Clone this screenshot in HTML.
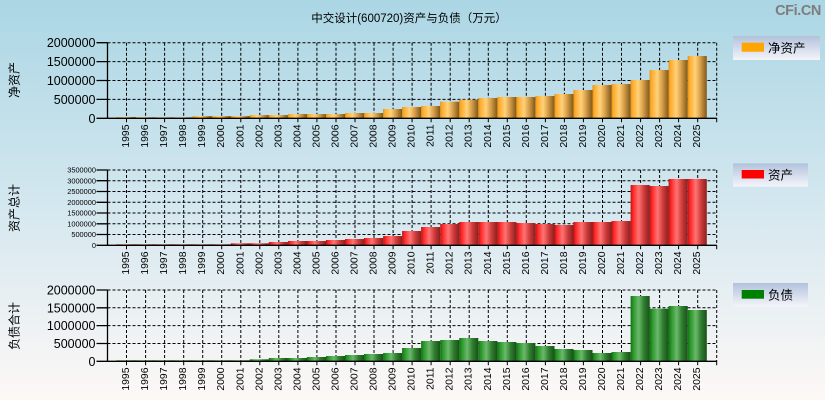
<!DOCTYPE html>
<html><head><meta charset="utf-8"><style>
html,body{margin:0;padding:0;width:825px;height:400px;overflow:hidden}
svg{display:block}
text{font-family:"Liberation Sans","Noto Sans CJK SC",sans-serif;fill:#000}
</style></head><body>
<svg width="825" height="400" viewBox="0 0 825 400" xmlns="http://www.w3.org/2000/svg">
<defs>
<linearGradient id="bg" x1="0" y1="0" x2="0" y2="1">
<stop offset="0" stop-color="#abd6e4"/><stop offset="0.5" stop-color="#d3e7ef"/><stop offset="1" stop-color="#fdf8f6"/>
</linearGradient>
<linearGradient id="lg" x1="0" y1="0" x2="0" y2="1">
<stop offset="0" stop-color="#b2c2dc"/><stop offset="1" stop-color="#f5f5fa"/>
</linearGradient>
<linearGradient id="go" x1="0" y1="0" x2="1" y2="0">
<stop offset="0" stop-color="#d8901a"/><stop offset="0.08" stop-color="#ffa826"/><stop offset="0.4" stop-color="#ffd27a"/><stop offset="0.65" stop-color="#d9a04a"/><stop offset="1" stop-color="#7e5818"/>
</linearGradient>
<linearGradient id="gr" x1="0" y1="0" x2="1" y2="0">
<stop offset="0" stop-color="#b01818"/><stop offset="0.12" stop-color="#ff2424"/><stop offset="0.42" stop-color="#ff7474"/><stop offset="0.7" stop-color="#d03a3a"/><stop offset="1" stop-color="#8a2020"/>
</linearGradient>
<linearGradient id="gg" x1="0" y1="0" x2="1" y2="0">
<stop offset="0" stop-color="#146e14"/><stop offset="0.12" stop-color="#259525"/><stop offset="0.42" stop-color="#6cb86c"/><stop offset="0.7" stop-color="#2e7e2e"/><stop offset="1" stop-color="#1a4f1a"/>
</linearGradient>
</defs>
<rect x="0" y="0" width="825" height="400" fill="url(#bg)"/>

<text x="409" y="22" font-size="11.5" text-anchor="middle">中交设计(600720)资产与负债（万元）</text>
<text x="821" y="15" font-size="14.5" font-weight="bold" text-anchor="end" style="fill:#7d7d7d" letter-spacing="-0.4">CFi.CN</text>

<!-- side labels -->
<text transform="translate(18.5,80) rotate(-90)" font-size="12" text-anchor="middle">净资产</text>
<text transform="translate(18.5,208) rotate(-90)" font-size="12" text-anchor="middle">资产总计</text>
<text transform="translate(18.5,326) rotate(-90)" font-size="12" text-anchor="middle">负债合计</text>

<!-- ================= PLOT 1 ================= -->
<g stroke="#000" stroke-width="1" stroke-dasharray="3,2" fill="none">
<path d="M107.5 42.7H716.7M107.5 61.6H716.7M107.5 80.5H716.7M107.5 99.4H716.7"/>
<path d="M126.5 42.7V118.3M145.6 42.7V118.3M164.6 42.7V118.3M183.7 42.7V118.3M202.7 42.7V118.3M221.7 42.7V118.3M240.8 42.7V118.3M259.8 42.7V118.3M278.8 42.7V118.3M297.9 42.7V118.3M316.9 42.7V118.3M336 42.7V118.3M355 42.7V118.3M374 42.7V118.3M393.1 42.7V118.3M412.1 42.7V118.3M431.1 42.7V118.3M450.2 42.7V118.3M469.2 42.7V118.3M488.3 42.7V118.3M507.3 42.7V118.3M526.3 42.7V118.3M545.4 42.7V118.3M564.4 42.7V118.3M583.4 42.7V118.3M602.5 42.7V118.3M621.5 42.7V118.3M640.6 42.7V118.3M659.6 42.7V118.3M678.6 42.7V118.3M697.7 42.7V118.3M716.7 42.7V118.3"/>
</g>
<g fill="url(#go)">
<rect x="116.5" y="117" width="19.1" height="1.3"/>
<rect x="135.6" y="117.3" width="19.1" height="1"/>
<rect x="154.6" y="117.3" width="19.1" height="1"/>
<rect x="173.6" y="117.3" width="19.1" height="1"/>
<rect x="192.7" y="116" width="19.1" height="2.3"/>
<rect x="211.7" y="116" width="19.1" height="2.3"/>
<rect x="230.8" y="116" width="19.1" height="2.3"/>
<rect x="249.8" y="115" width="19.1" height="3.3"/>
<rect x="268.8" y="115" width="19.1" height="3.3"/>
<rect x="287.9" y="114" width="19.1" height="4.3"/>
<rect x="306.9" y="114" width="19.1" height="4.3"/>
<rect x="325.9" y="114" width="19.1" height="4.3"/>
<rect x="345" y="113" width="19.1" height="5.3"/>
<rect x="364" y="113" width="19.1" height="5.3"/>
<rect x="383.1" y="109" width="19.1" height="9.3"/>
<rect x="402.1" y="107" width="19.1" height="11.3"/>
<rect x="421.1" y="106" width="19.1" height="12.3"/>
<rect x="440.2" y="101.7" width="19.1" height="16.6"/>
<rect x="459.2" y="99.7" width="19.1" height="18.6"/>
<rect x="478.3" y="98" width="19.1" height="20.3"/>
<rect x="497.3" y="97" width="19.1" height="21.3"/>
<rect x="516.3" y="97" width="19.1" height="21.3"/>
<rect x="535.4" y="96" width="19.1" height="22.3"/>
<rect x="554.4" y="94" width="19.1" height="24.3"/>
<rect x="573.4" y="90" width="19.1" height="28.3"/>
<rect x="592.5" y="85" width="19.1" height="33.3"/>
<rect x="611.5" y="84" width="19.1" height="34.3"/>
<rect x="630.6" y="80" width="19.1" height="38.3"/>
<rect x="649.6" y="70" width="19.1" height="48.3"/>
<rect x="668.6" y="60" width="19.1" height="58.3"/>
<rect x="687.7" y="56" width="19.1" height="62.3"/>
</g>
<g stroke="#000" stroke-width="1.3" fill="none">
<path d="M107.5 42.7V118.3H716.7"/>
<path d="M96.5 42.7H107.5M96.5 61.6H107.5M96.5 80.5H107.5M96.5 99.4H107.5M96.5 118.3H107.5"/>
<path stroke-width="1" d="M126.5 118.3v4M145.6 118.3v4M164.6 118.3v4M183.7 118.3v4M202.7 118.3v4M221.7 118.3v4M240.8 118.3v4M259.8 118.3v4M278.8 118.3v4M297.9 118.3v4M316.9 118.3v4M336 118.3v4M355 118.3v4M374 118.3v4M393.1 118.3v4M412.1 118.3v4M431.1 118.3v4M450.2 118.3v4M469.2 118.3v4M488.3 118.3v4M507.3 118.3v4M526.3 118.3v4M545.4 118.3v4M564.4 118.3v4M583.4 118.3v4M602.5 118.3v4M621.5 118.3v4M640.6 118.3v4M659.6 118.3v4M678.6 118.3v4M697.7 118.3v4M716.7 118.3v4"/>
</g>
<g font-size="12.5" text-anchor="end">
<text x="95.5" y="47.2">2000000</text>
<text x="95.5" y="66.1">1500000</text>
<text x="95.5" y="85">1000000</text>
<text x="95.5" y="103.9">500000</text>
<text x="95.5" y="122.8">0</text>
</g>
<g font-size="10.4" text-anchor="end">
<text transform="translate(129,124.5) rotate(-90)">1995</text>
<text transform="translate(148.1,124.5) rotate(-90)">1996</text>
<text transform="translate(167.1,124.5) rotate(-90)">1997</text>
<text transform="translate(186.2,124.5) rotate(-90)">1998</text>
<text transform="translate(205.2,124.5) rotate(-90)">1999</text>
<text transform="translate(224.2,124.5) rotate(-90)">2000</text>
<text transform="translate(243.3,124.5) rotate(-90)">2001</text>
<text transform="translate(262.3,124.5) rotate(-90)">2002</text>
<text transform="translate(281.3,124.5) rotate(-90)">2003</text>
<text transform="translate(300.4,124.5) rotate(-90)">2004</text>
<text transform="translate(319.4,124.5) rotate(-90)">2005</text>
<text transform="translate(338.5,124.5) rotate(-90)">2006</text>
<text transform="translate(357.5,124.5) rotate(-90)">2007</text>
<text transform="translate(376.5,124.5) rotate(-90)">2008</text>
<text transform="translate(395.6,124.5) rotate(-90)">2009</text>
<text transform="translate(414.6,124.5) rotate(-90)">2010</text>
<text transform="translate(433.6,124.5) rotate(-90)">2011</text>
<text transform="translate(452.7,124.5) rotate(-90)">2012</text>
<text transform="translate(471.7,124.5) rotate(-90)">2013</text>
<text transform="translate(490.8,124.5) rotate(-90)">2014</text>
<text transform="translate(509.8,124.5) rotate(-90)">2015</text>
<text transform="translate(528.8,124.5) rotate(-90)">2016</text>
<text transform="translate(547.9,124.5) rotate(-90)">2017</text>
<text transform="translate(566.9,124.5) rotate(-90)">2018</text>
<text transform="translate(585.9,124.5) rotate(-90)">2019</text>
<text transform="translate(605,124.5) rotate(-90)">2020</text>
<text transform="translate(624,124.5) rotate(-90)">2021</text>
<text transform="translate(643.1,124.5) rotate(-90)">2022</text>
<text transform="translate(662.1,124.5) rotate(-90)">2023</text>
<text transform="translate(681.1,124.5) rotate(-90)">2024</text>
<text transform="translate(700.2,124.5) rotate(-90)">2025</text>
</g>
<rect x="733" y="36" width="87" height="24" fill="url(#lg)"/>
<rect x="741.7" y="42.7" width="22.3" height="9" fill="#ffa500"/>
<text x="768" y="52.5" font-size="12.5">净资产</text>

<!-- ================= PLOT 2 ================= -->
<g stroke="#000" stroke-width="1" stroke-dasharray="3,2" fill="none">
<path d="M107.5 170H716.7M107.5 180.7H716.7M107.5 191.5H716.7M107.5 202.3H716.7M107.5 213H716.7M107.5 223.8H716.7M107.5 234.5H716.7"/>
<path d="M126.5 170V245.3M145.6 170V245.3M164.6 170V245.3M183.7 170V245.3M202.7 170V245.3M221.7 170V245.3M240.8 170V245.3M259.8 170V245.3M278.8 170V245.3M297.9 170V245.3M316.9 170V245.3M336 170V245.3M355 170V245.3M374 170V245.3M393.1 170V245.3M412.1 170V245.3M431.1 170V245.3M450.2 170V245.3M469.2 170V245.3M488.3 170V245.3M507.3 170V245.3M526.3 170V245.3M545.4 170V245.3M564.4 170V245.3M583.4 170V245.3M602.5 170V245.3M621.5 170V245.3M640.6 170V245.3M659.6 170V245.3M678.6 170V245.3M697.7 170V245.3M716.7 170V245.3"/>
</g>
<g fill="url(#gr)">
<rect x="116.5" y="244.3" width="19.1" height="1"/>
<rect x="135.6" y="244.3" width="19.1" height="1"/>
<rect x="154.6" y="244.3" width="19.1" height="1"/>
<rect x="173.6" y="244.3" width="19.1" height="1"/>
<rect x="192.7" y="244.3" width="19.1" height="1"/>
<rect x="211.7" y="244.3" width="19.1" height="1"/>
<rect x="230.8" y="243.3" width="19.1" height="2"/>
<rect x="249.8" y="243.3" width="19.1" height="2"/>
<rect x="268.8" y="242" width="19.1" height="3.3"/>
<rect x="287.9" y="241" width="19.1" height="4.3"/>
<rect x="306.9" y="241" width="19.1" height="4.3"/>
<rect x="325.9" y="240" width="19.1" height="5.3"/>
<rect x="345" y="239" width="19.1" height="6.3"/>
<rect x="364" y="238" width="19.1" height="7.3"/>
<rect x="383.1" y="236" width="19.1" height="9.3"/>
<rect x="402.1" y="231" width="19.1" height="14.3"/>
<rect x="421.1" y="227" width="19.1" height="18.3"/>
<rect x="440.2" y="224" width="19.1" height="21.3"/>
<rect x="459.2" y="222" width="19.1" height="23.3"/>
<rect x="478.3" y="222" width="19.1" height="23.3"/>
<rect x="497.3" y="222" width="19.1" height="23.3"/>
<rect x="516.3" y="223" width="19.1" height="22.3"/>
<rect x="535.4" y="224" width="19.1" height="21.3"/>
<rect x="554.4" y="225" width="19.1" height="20.3"/>
<rect x="573.4" y="222" width="19.1" height="23.3"/>
<rect x="592.5" y="222" width="19.1" height="23.3"/>
<rect x="611.5" y="221" width="19.1" height="24.3"/>
<rect x="630.6" y="185" width="19.1" height="60.3"/>
<rect x="649.6" y="186" width="19.1" height="59.3"/>
<rect x="668.6" y="179" width="19.1" height="66.3"/>
<rect x="687.7" y="179" width="19.1" height="66.3"/>
</g>
<g stroke="#000" stroke-width="1.3" fill="none">
<path d="M107.5 170V245.3H716.7"/>
<path d="M96.5 170H107.5M96.5 180.7H107.5M96.5 191.5H107.5M96.5 202.3H107.5M96.5 213H107.5M96.5 223.8H107.5M96.5 234.5H107.5M96.5 245.3H107.5"/>
<path stroke-width="1" d="M126.5 245.3v4M145.6 245.3v4M164.6 245.3v4M183.7 245.3v4M202.7 245.3v4M221.7 245.3v4M240.8 245.3v4M259.8 245.3v4M278.8 245.3v4M297.9 245.3v4M316.9 245.3v4M336 245.3v4M355 245.3v4M374 245.3v4M393.1 245.3v4M412.1 245.3v4M431.1 245.3v4M450.2 245.3v4M469.2 245.3v4M488.3 245.3v4M507.3 245.3v4M526.3 245.3v4M545.4 245.3v4M564.4 245.3v4M583.4 245.3v4M602.5 245.3v4M621.5 245.3v4M640.6 245.3v4M659.6 245.3v4M678.6 245.3v4M697.7 245.3v4M716.7 245.3v4"/>
</g>
<g font-size="7.4" text-anchor="end">
<text x="96" y="172.7">3500000</text>
<text x="96" y="183.4">3000000</text>
<text x="96" y="194.2">2500000</text>
<text x="96" y="205">2000000</text>
<text x="96" y="215.7">1500000</text>
<text x="96" y="226.5">1000000</text>
<text x="96" y="237.2">500000</text>
<text x="96" y="248">0</text>
</g>
<g font-size="10.4" text-anchor="end">
<text transform="translate(129,251.5) rotate(-90)">1995</text>
<text transform="translate(148.1,251.5) rotate(-90)">1996</text>
<text transform="translate(167.1,251.5) rotate(-90)">1997</text>
<text transform="translate(186.2,251.5) rotate(-90)">1998</text>
<text transform="translate(205.2,251.5) rotate(-90)">1999</text>
<text transform="translate(224.2,251.5) rotate(-90)">2000</text>
<text transform="translate(243.3,251.5) rotate(-90)">2001</text>
<text transform="translate(262.3,251.5) rotate(-90)">2002</text>
<text transform="translate(281.3,251.5) rotate(-90)">2003</text>
<text transform="translate(300.4,251.5) rotate(-90)">2004</text>
<text transform="translate(319.4,251.5) rotate(-90)">2005</text>
<text transform="translate(338.5,251.5) rotate(-90)">2006</text>
<text transform="translate(357.5,251.5) rotate(-90)">2007</text>
<text transform="translate(376.5,251.5) rotate(-90)">2008</text>
<text transform="translate(395.6,251.5) rotate(-90)">2009</text>
<text transform="translate(414.6,251.5) rotate(-90)">2010</text>
<text transform="translate(433.6,251.5) rotate(-90)">2011</text>
<text transform="translate(452.7,251.5) rotate(-90)">2012</text>
<text transform="translate(471.7,251.5) rotate(-90)">2013</text>
<text transform="translate(490.8,251.5) rotate(-90)">2014</text>
<text transform="translate(509.8,251.5) rotate(-90)">2015</text>
<text transform="translate(528.8,251.5) rotate(-90)">2016</text>
<text transform="translate(547.9,251.5) rotate(-90)">2017</text>
<text transform="translate(566.9,251.5) rotate(-90)">2018</text>
<text transform="translate(585.9,251.5) rotate(-90)">2019</text>
<text transform="translate(605,251.5) rotate(-90)">2020</text>
<text transform="translate(624,251.5) rotate(-90)">2021</text>
<text transform="translate(643.1,251.5) rotate(-90)">2022</text>
<text transform="translate(662.1,251.5) rotate(-90)">2023</text>
<text transform="translate(681.1,251.5) rotate(-90)">2024</text>
<text transform="translate(700.2,251.5) rotate(-90)">2025</text>
</g>
<rect x="733" y="163.3" width="75" height="23.4" fill="url(#lg)"/>
<rect x="741.7" y="170" width="22.3" height="8.5" fill="#ff0000"/>
<text x="768" y="179.5" font-size="12.5">资产</text>

<!-- ================= PLOT 3 ================= -->
<g stroke="#000" stroke-width="1" stroke-dasharray="3,2" fill="none">
<path d="M107.5 290H716.7M107.5 307.8H716.7M107.5 325.6H716.7M107.5 343.5H716.7"/>
<path d="M126.5 290V361.3M145.6 290V361.3M164.6 290V361.3M183.7 290V361.3M202.7 290V361.3M221.7 290V361.3M240.8 290V361.3M259.8 290V361.3M278.8 290V361.3M297.9 290V361.3M316.9 290V361.3M336 290V361.3M355 290V361.3M374 290V361.3M393.1 290V361.3M412.1 290V361.3M431.1 290V361.3M450.2 290V361.3M469.2 290V361.3M488.3 290V361.3M507.3 290V361.3M526.3 290V361.3M545.4 290V361.3M564.4 290V361.3M583.4 290V361.3M602.5 290V361.3M621.5 290V361.3M640.6 290V361.3M659.6 290V361.3M678.6 290V361.3M697.7 290V361.3M716.7 290V361.3"/>
</g>
<g fill="url(#gg)">
<rect x="116.5" y="360.3" width="19.1" height="1"/>
<rect x="135.6" y="360.3" width="19.1" height="1"/>
<rect x="154.6" y="360.3" width="19.1" height="1"/>
<rect x="173.6" y="360.3" width="19.1" height="1"/>
<rect x="192.7" y="360.3" width="19.1" height="1"/>
<rect x="211.7" y="360.3" width="19.1" height="1"/>
<rect x="230.8" y="360.3" width="19.1" height="1"/>
<rect x="249.8" y="359.3" width="19.1" height="2"/>
<rect x="268.8" y="358" width="19.1" height="3.3"/>
<rect x="287.9" y="358" width="19.1" height="3.3"/>
<rect x="306.9" y="357" width="19.1" height="4.3"/>
<rect x="325.9" y="356" width="19.1" height="5.3"/>
<rect x="345" y="355" width="19.1" height="6.3"/>
<rect x="364" y="354" width="19.1" height="7.3"/>
<rect x="383.1" y="353" width="19.1" height="8.3"/>
<rect x="402.1" y="348" width="19.1" height="13.3"/>
<rect x="421.1" y="341" width="19.1" height="20.3"/>
<rect x="440.2" y="340" width="19.1" height="21.3"/>
<rect x="459.2" y="338" width="19.1" height="23.3"/>
<rect x="478.3" y="341" width="19.1" height="20.3"/>
<rect x="497.3" y="342" width="19.1" height="19.3"/>
<rect x="516.3" y="343" width="19.1" height="18.3"/>
<rect x="535.4" y="346" width="19.1" height="15.3"/>
<rect x="554.4" y="349" width="19.1" height="12.3"/>
<rect x="573.4" y="350" width="19.1" height="11.3"/>
<rect x="592.5" y="353" width="19.1" height="8.3"/>
<rect x="611.5" y="352" width="19.1" height="9.3"/>
<rect x="630.6" y="296" width="19.1" height="65.3"/>
<rect x="649.6" y="308.7" width="19.1" height="52.6"/>
<rect x="668.6" y="306" width="19.1" height="55.3"/>
<rect x="687.7" y="310" width="19.1" height="51.3"/>
</g>
<g stroke="#000" stroke-width="1.3" fill="none">
<path d="M107.5 290V361.3H716.7"/>
<path d="M96.5 290H107.5M96.5 307.8H107.5M96.5 325.6H107.5M96.5 343.5H107.5M96.5 361.3H107.5"/>
<path stroke-width="1" d="M126.5 361.3v4M145.6 361.3v4M164.6 361.3v4M183.7 361.3v4M202.7 361.3v4M221.7 361.3v4M240.8 361.3v4M259.8 361.3v4M278.8 361.3v4M297.9 361.3v4M316.9 361.3v4M336 361.3v4M355 361.3v4M374 361.3v4M393.1 361.3v4M412.1 361.3v4M431.1 361.3v4M450.2 361.3v4M469.2 361.3v4M488.3 361.3v4M507.3 361.3v4M526.3 361.3v4M545.4 361.3v4M564.4 361.3v4M583.4 361.3v4M602.5 361.3v4M621.5 361.3v4M640.6 361.3v4M659.6 361.3v4M678.6 361.3v4M697.7 361.3v4M716.7 361.3v4"/>
</g>
<g font-size="12.5" text-anchor="end">
<text x="95.5" y="294.5">2000000</text>
<text x="95.5" y="312.3">1500000</text>
<text x="95.5" y="330.1">1000000</text>
<text x="95.5" y="348">500000</text>
<text x="95.5" y="365.8">0</text>
</g>
<g font-size="10.4" text-anchor="end">
<text transform="translate(129,367.5) rotate(-90)">1995</text>
<text transform="translate(148.1,367.5) rotate(-90)">1996</text>
<text transform="translate(167.1,367.5) rotate(-90)">1997</text>
<text transform="translate(186.2,367.5) rotate(-90)">1998</text>
<text transform="translate(205.2,367.5) rotate(-90)">1999</text>
<text transform="translate(224.2,367.5) rotate(-90)">2000</text>
<text transform="translate(243.3,367.5) rotate(-90)">2001</text>
<text transform="translate(262.3,367.5) rotate(-90)">2002</text>
<text transform="translate(281.3,367.5) rotate(-90)">2003</text>
<text transform="translate(300.4,367.5) rotate(-90)">2004</text>
<text transform="translate(319.4,367.5) rotate(-90)">2005</text>
<text transform="translate(338.5,367.5) rotate(-90)">2006</text>
<text transform="translate(357.5,367.5) rotate(-90)">2007</text>
<text transform="translate(376.5,367.5) rotate(-90)">2008</text>
<text transform="translate(395.6,367.5) rotate(-90)">2009</text>
<text transform="translate(414.6,367.5) rotate(-90)">2010</text>
<text transform="translate(433.6,367.5) rotate(-90)">2011</text>
<text transform="translate(452.7,367.5) rotate(-90)">2012</text>
<text transform="translate(471.7,367.5) rotate(-90)">2013</text>
<text transform="translate(490.8,367.5) rotate(-90)">2014</text>
<text transform="translate(509.8,367.5) rotate(-90)">2015</text>
<text transform="translate(528.8,367.5) rotate(-90)">2016</text>
<text transform="translate(547.9,367.5) rotate(-90)">2017</text>
<text transform="translate(566.9,367.5) rotate(-90)">2018</text>
<text transform="translate(585.9,367.5) rotate(-90)">2019</text>
<text transform="translate(605,367.5) rotate(-90)">2020</text>
<text transform="translate(624,367.5) rotate(-90)">2021</text>
<text transform="translate(643.1,367.5) rotate(-90)">2022</text>
<text transform="translate(662.1,367.5) rotate(-90)">2023</text>
<text transform="translate(681.1,367.5) rotate(-90)">2024</text>
<text transform="translate(700.2,367.5) rotate(-90)">2025</text>
</g>
<rect x="733" y="283" width="75" height="23.7" fill="url(#lg)"/>
<rect x="741.7" y="290" width="22.3" height="8.7" fill="#008000"/>
<text x="768" y="299.5" font-size="12.5">负债</text>
</svg>
</body></html>
